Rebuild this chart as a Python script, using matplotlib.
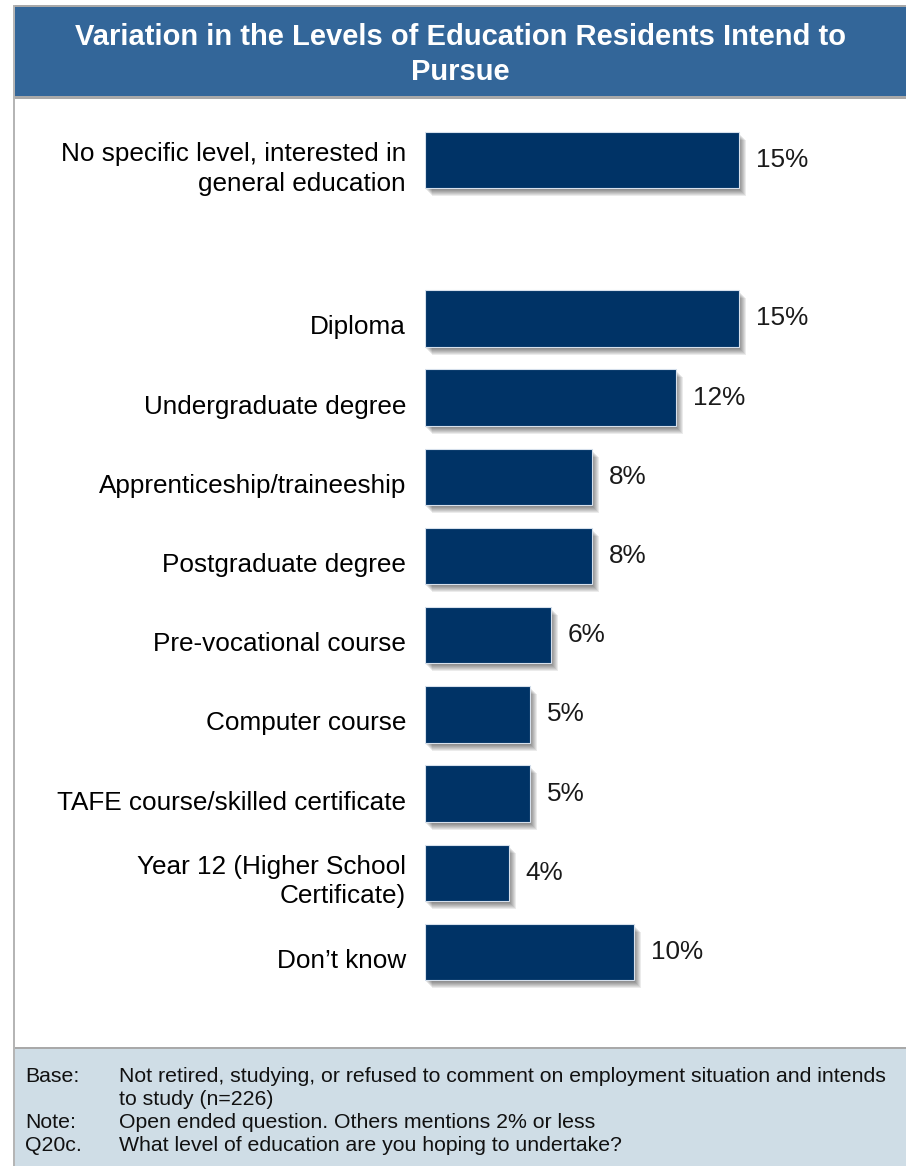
import matplotlib
matplotlib.use("Agg")
import matplotlib.pyplot as plt
from matplotlib.patches import Rectangle
from matplotlib.transforms import ScaledTranslation
import matplotlib.patheffects as pe

plt.rcParams['font.family'] = ['Liberation Sans', 'DejaVu Sans']

# ---- data -------------------------------------------------------------
title_lines = ["Variation in the Levels of Education Residents Intend to", "Pursue"]

categories = [
    "No specific level, interested in\ngeneral education",
    "Diploma",
    "Undergraduate degree",
    "Apprenticeship/traineeship",
    "Postgraduate degree",
    "Pre-vocational course",
    "Computer course",
    "TAFE course/skilled certificate",
    "Year 12 (Higher School\nCertificate)",
    "Don\u2019t know",
]
values = [15, 15, 12, 8, 8, 6, 5, 5, 4, 10]

footer_keys = ["Base:", "", "Note:", "Q20c."]
footer_lines = [
    "Not retired, studying, or refused to comment on employment situation and intends",
    "to study (n=226)",
    "Open ended question. Others mentions 2% or less",
    "What level of education are you hoping to undertake?",
]

# ---- colours ----------------------------------------------------------
BANNER = "#336699"
BAR = "#003366"
FOOTER = "#cfdde6"
RULE = "#a9a9a9"

W, H = 906, 1166
fig = plt.figure(figsize=(W / 100, H / 100), dpi=100)
fig.patch.set_facecolor("white")


def box(x0, y0, x1, y1, color):
    """Rectangle given in pixel coordinates measured from the top-left."""
    fig.add_artist(Rectangle((x0 / W, 1 - y1 / H), (x1 - x0) / W, (y1 - y0) / H,
                             transform=fig.transFigure, facecolor=color,
                             edgecolor="none", zorder=-1))


# frame, banner and footer panel
box(13, 5, W, 7, RULE)
box(14, 7, W, 96, BANNER)
box(14, 96, W, 99, RULE)
box(13, 5, 15, H, "#b5b5b5")
box(15, 1047, W, 1049, RULE)
box(15, 1049, W, H, FOOTER)

fig.text(460 / W, 1 - 45 / H, title_lines[0], ha="center", va="baseline",
         color="white", fontsize=21, fontweight="bold")
fig.text(460 / W, 1 - 80 / H, title_lines[1], ha="center", va="baseline",
         color="white", fontsize=21, fontweight="bold")

# ---- bar chart --------------------------------------------------------
ax_left, ax_right, ax_top, ax_bottom = 425, W, 100, 1040
ax = fig.add_axes([ax_left / W, 1 - ax_bottom / H,
                   (ax_right - ax_left) / W, (ax_bottom - ax_top) / H])
ax.patch.set_visible(False)

# first category stands apart, followed by one empty row
positions = [0] + list(range(2, 2 + len(categories) - 1))

px_per_pct = 20.92
slot_px = 79.2
ax.set_xlim(0, (ax_right - ax_left) / px_per_pct)
ax.set_ylim((ax_bottom - 160) / slot_px, (ax_top - 160) / slot_px)
ax.axis("off")

shadow = [pe.SimplePatchShadow(offset=(k * 0.72, -(k + 1) * 0.72),
                               shadow_rgbFace="#000000", alpha=0.08)
          for k in range(1, 8)]
bars = ax.barh(positions, values, height=0.71, color=BAR,
               edgecolor="#d6e0ec", linewidth=0.8)
for b in bars:
    b.set_path_effects(shadow + [pe.Normal()])

lab_tr = ax.transData + ScaledTranslation(-0.19, -0.09, fig.dpi_scale_trans)
val_tr = ax.transData + ScaledTranslation(0.17, 0.0, fig.dpi_scale_trans)
for pos, cat, v in zip(positions, categories, values):
    ax.text(0, pos, cat, transform=lab_tr, ha="right", va="center",
            fontsize=18.8, color="black", linespacing=1.27, clip_on=False)
    ax.text(v, pos, f"{v}%", transform=val_tr, ha="left", va="center",
            fontsize=18.8, color="#1a1a1a", clip_on=False)

# ---- footer notes -----------------------------------------------------
base_y = 1082
for i, (k, line) in enumerate(zip(footer_keys, footer_lines)):
    y = 1 - (base_y + 23 * i) / H
    if k:
        fig.text(25 / W, y, k, ha="left", va="baseline", fontsize=15.3, color="#111111")
    fig.text(119 / W, y, line, ha="left", va="baseline", fontsize=15.3, color="#111111")

fig.savefig("out.png", dpi=100)
